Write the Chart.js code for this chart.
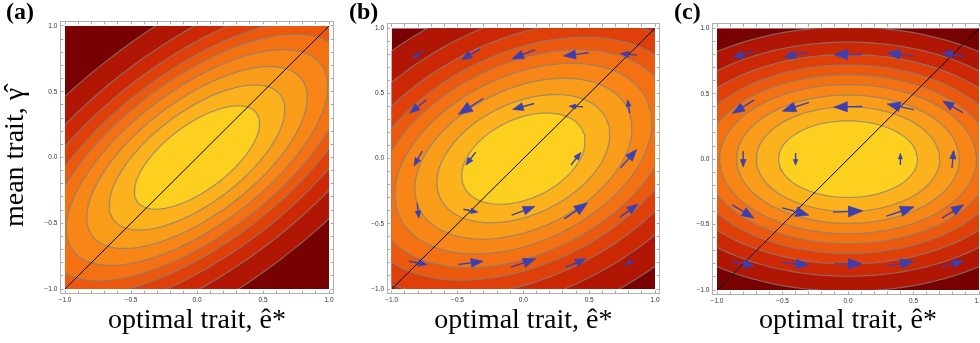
<!DOCTYPE html>
<html><head><meta charset="utf-8">
<script src="https://cdn.jsdelivr.net/npm/chart.js@4.4.1/dist/chart.umd.min.js"></script>
<style>
html,body{margin:0;padding:0;background:#fff;}
#wrap{position:relative;width:980px;height:343px;overflow:hidden;background:#fff;}
#wrap canvas{position:absolute;left:0;top:0;}
.plabel{position:absolute;top:-1px;font-family:"Liberation Serif","DejaVu Serif",serif;font-weight:bold;font-size:24px;line-height:1;color:#000;}
</style></head>
<body>
<div id="wrap">
  <canvas id="chartA" width="1000" height="343"></canvas>
  <canvas id="chartB" width="1000" height="343"></canvas>
  <canvas id="chartC" width="1000" height="343"></canvas>
  <div class="plabel" style="left:6px">(a)</div>
  <div class="plabel" style="left:349px">(b)</div>
  <div class="plabel" style="left:674px">(c)</div>
</div>
<script>
// ---------------- data ----------------
const TICK_VALUES = [-1,-0.9,-0.8,-0.7,-0.6,-0.5,-0.4,-0.3,-0.2,-0.1,0,0.1,0.2,0.3,0.4,0.5,0.6,0.7,0.8,0.9,1];
const MAJOR_TICKS = [-1,-0.5,0,0.5,1];
const DIAGONAL = [{x:-1,y:-1},{x:1,y:1}];
const DATA_BOX = [{x:-1,y:-1},{x:1,y:-1},{x:1,y:1},{x:-1,y:1},{x:-1,y:-1}];
// fill colours of the contour bands, innermost (yellow) to outermost (dark red)
const BAND_COLORS = ['#fdd01f','#fbb21c','#f99c1a','#f78617','#f37113','#eb590e','#df4009','#cd2806','#b11503','#780101'];

// contour ellipses (semi-axes, innermost first) and tilt of the major axis in degrees
const A_ANGLE = 37;
const A_MAJOR = [0.563,0.79,0.992,1.176,1.344,1.498,1.691,1.93,2.27];
const A_MINOR = [0.248,0.348,0.437,0.518,0.592,0.66,0.745,0.85,1.0];
const B_ANGLE = 26;
const B_MAJOR = [0.499,0.70,0.879,1.041,1.19,1.328,1.497,1.706,2.01];
const B_MINOR = [0.304,0.427,0.536,0.635,0.726,0.81,0.913,1.04,1.226];
const C_ANGLE = 0;
const C_MAJOR = [0.53,0.70,0.85,0.98,1.10,1.22,1.36,1.52,1.72];
const C_MINOR = [0.293,0.40,0.49,0.57,0.645,0.72,0.80,0.895,1.01];

// arrow grid (centres) and arrow vectors, rows top (y=0.8) to bottom (y=-0.8)
const ARROW_X = [-0.8,-0.4,0,0.4,0.8];
const ARROW_Y = [0.8,0.4,0,-0.4,-0.8];
const B_U = [[-0.08,-0.139,-0.177,-0.19,-0.127],
             [-0.127,-0.19,-0.164,-0.106,-0.017],
             [-0.063,-0.076,0,0.076,0.122],
             [0.012,0.111,0.177,0.178,0.14],
             [0.14,0.19,0.19,0.152,0.076]];
const B_V = [[-0.064,-0.082,-0.071,-0.025,0.012],
             [-0.102,-0.123,-0.046,0.004,0.102],
             [-0.115,-0.1,0,0.097,0.14],
             [-0.115,-0.023,0.067,0.123,0.102],
             [-0.025,0.025,0.064,0.064,0.046]];
const C_U = [[-0.153,-0.178,-0.216,-0.204,-0.166],
             [-0.166,-0.204,-0.216,-0.204,-0.153],
             [0,0,0,0,0.013],
             [0.166,0.204,0.229,0.211,0.166],
             [0.166,0.204,0.216,0.204,0.166]];
const C_V = [[-0.044,-0.038,0,0.026,0.031],
             [-0.102,-0.067,-0.005,0.044,0.089],
             [-0.122,-0.094,0,0.089,0.135],
             [-0.102,-0.056,0.01,0.071,0.102],
             [-0.033,-0.02,0,0.035,0.043]];

const X_TITLE = 'optimal trait, ê*';
const Y_TITLE = 'mean trait, γ̂';

// ---------------- style / layout ----------------
const FRAME_RANGE = 1.035;
const ELLIPSE_STEPS = 160;
const CONTOUR_LINE = 'rgba(128,128,128,0.75)';
const ARROW_COLOR = '#3b3fb0';
const HEAD_LEN = 0.48, HEAD_WID = 0.36;
const CANVAS_W = 1000, CANVAS_H = 343;
const SERIF = '"Liberation Serif","DejaVu Serif",serif';

function fmt(v){ const s = Math.abs(v).toFixed(1); return v < -1e-9 ? '\u2212' + s : s; }
function isMajor(v){ return MAJOR_TICKS.some(m => Math.abs(m - v) < 1e-6); }

function ellipsePts(a, b, deg){
  const th = deg*Math.PI/180, c = Math.cos(th), s = Math.sin(th), pts = [];
  for (let i = 0; i <= ELLIPSE_STEPS; i++){
    const t = 2*Math.PI*i/ELLIPSE_STEPS, u = a*Math.cos(t), v = b*Math.sin(t);
    pts.push({x: u*c - v*s, y: u*s + v*c});
  }
  return pts;
}

function arrowSets(U, V){
  const out = [];
  ARROW_Y.forEach((y, r) => ARROW_X.forEach((x, k) => {
    const u = U[r][k], v = V[r][k], L = Math.hypot(u, v);
    if (L < 1e-6) return;
    const dx = u/L, dy = v/L, px = -dy, py = dx;
    const tip = {x: x + u/2, y: y + v/2}, tail = {x: x - u/2, y: y - v/2};
    const hl = HEAD_LEN*L, hw = HEAD_WID*L;
    const base = {x: tip.x - dx*hl, y: tip.y - dy*hl};
    out.push({data:[tail, {x: base.x + dx*hl*0.3, y: base.y + dy*hl*0.3}], borderColor: ARROW_COLOR, borderWidth: 1.4, fill: false, order: 3});
    out.push({data:[tip, {x: base.x + px*hw/2, y: base.y + py*hw/2}, {x: base.x - px*hw/2, y: base.y - py*hw/2}, tip],
      borderColor: ARROW_COLOR, borderWidth: 0.6, backgroundColor: ARROW_COLOR, fill: 'shape', order: 2});
  }));
  return out;
}

const clipPlugin = {
  id: 'dataClip',
  beforeDatasetsDraw(chart){
    const {ctx, scales:{x, y}} = chart;
    const l = x.getPixelForValue(-1), r = x.getPixelForValue(1), t = y.getPixelForValue(1), b = y.getPixelForValue(-1);
    ctx.save(); ctx.beginPath(); ctx.rect(l, t, r - l, b - t); ctx.clip();
  },
  afterDatasetsDraw(chart){ chart.ctx.restore(); }
};

function scaleCfg(pos, size, showLabels, title){
  const horiz = pos === 'top' || pos === 'bottom';
  return {
    type: 'linear', position: pos, min: -FRAME_RANGE, max: FRAME_RANGE, bounds: 'data',
    afterBuildTicks: s => { s.ticks = TICK_VALUES.map(v => ({value: v})); },
    afterFit: s => { if (horiz) s.height = size; else s.width = size; },
    grid: {drawOnChartArea: false, drawTicks: true, tickLength: -3, tickColor: '#a8a8a8', tickWidth: 1},
    border: {display: true, color: '#b0b0b0', width: 1},
    ticks: {display: showLabels, autoSkip: false, maxRotation: 0, minRotation: 0, padding: 6,
      font: {family: '"Liberation Sans","DejaVu Sans",sans-serif', size: 6.5}, color: '#333',
      callback: v => isMajor(v) ? fmt(v) : ''},
    title: title ? {display: true, text: title.text, color: '#000',
      font: {family: SERIF, size: 28, lineHeight: 1}, padding: title.padding} : {display: false}
  };
}

function makePanel(id, dataBox, angle, majors, minors, U, V, leftW, yTitle){
  // dataBox: pixel box of the -1..1 region [x0, x1, y0, y1]
  const [x0, x1, y0, y1] = dataBox;
  const hx = (x1 - x0)/2, hy = (y1 - y0)/2;
  const L = x0 - hx*(FRAME_RANGE - 1), R = x1 + hx*(FRAME_RANGE - 1);
  const T = y0 - hy*(FRAME_RANGE - 1), B = y1 + hy*(FRAME_RANGE - 1);
  const datasets = [];
  datasets.push({data: DATA_BOX, backgroundColor: BAND_COLORS[BAND_COLORS.length - 1], borderWidth: 0, fill: 'shape', order: 200});
  for (let k = majors.length - 1; k >= 0; k--){
    datasets.push({data: ellipsePts(majors[k], minors[k], angle), backgroundColor: BAND_COLORS[k],
      borderColor: CONTOUR_LINE, borderWidth: 1.2, fill: 'shape', order: 50 + k});
  }
  datasets.push({data: DIAGONAL, borderColor: '#000', borderWidth: 1, fill: false, order: 10});
  if (U) arrowSets(U, V).forEach(d => datasets.push(d));
  return new Chart(document.getElementById(id), {
    type: 'line',
    data: {datasets},
    options: {
      responsive: false, animation: false, devicePixelRatio: 1, events: [],
      layout: {padding: {left: L - leftW, right: CANVAS_W - R - 3, top: T - 3, bottom: 0}},
      elements: {point: {radius: 0, hoverRadius: 0}, line: {tension: 0}},
      plugins: {legend: {display: false}, tooltip: {enabled: false}},
      scales: {
        x: scaleCfg('bottom', CANVAS_H - B, true, {text: X_TITLE, padding: {top: 0, bottom: 8}}),
        y: scaleCfg('left', leftW, true, yTitle ? {text: Y_TITLE, padding: {top: 2, bottom: 0}} : null),
        x2: scaleCfg('top', 3, false, null),
        y2: scaleCfg('right', 3, false, null)
      }
    },
    plugins: [clipPlugin]
  });
}

makePanel('chartA', [65, 329, 26, 289], A_ANGLE, A_MAJOR, A_MINOR, null, null, 60.4, true);
makePanel('chartB', [391.7, 655, 28.3, 289], B_ANGLE, B_MAJOR, B_MINOR, B_U, B_V, 30, false);
makePanel('chartC', [717, 979, 28.3, 290], C_ANGLE, C_MAJOR, C_MINOR, C_U, C_V, 30, false);
</script>
</body></html>
